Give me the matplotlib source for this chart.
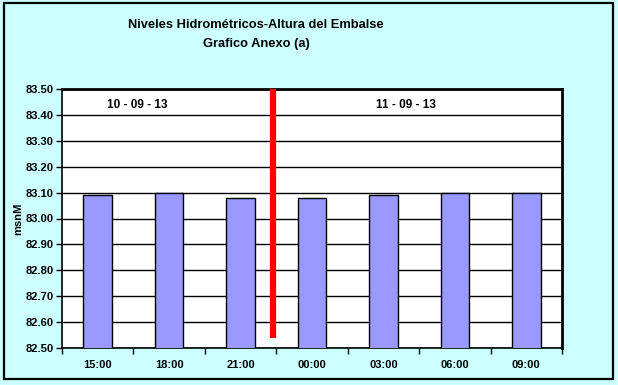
import matplotlib
matplotlib.use("Agg")
import matplotlib.pyplot as plt
from matplotlib.patches import Rectangle
from matplotlib import font_manager
import numpy as np

categories = ["15:00", "18:00", "21:00", "00:00", "03:00", "06:00", "09:00"]
values = [83.09, 83.10, 83.08, 83.08, 83.09, 83.10, 83.10]
yticks = [82.5 + 0.1 * i for i in range(11)]
date_labels = ["10 - 09 - 13", "11 - 09 - 13"]
divider_x = 2.46
divider_bottom = 82.54

plt.rcParams['font.family'] = ['Liberation Sans', 'DejaVu Sans']
names = {f.name for f in font_manager.fontManager.ttflist}
title_family = ['Liberation Sans Narrow', 'Liberation Sans'] if 'Liberation Sans Narrow' in names else ['Liberation Sans']
title_size = 11 if 'Liberation Sans Narrow' in names else 9.3

fig = plt.figure(figsize=(6.18, 3.85), dpi=100)
fig.patch.set_facecolor('#CCFFFF')
fig.patches.append(Rectangle((4/618, 1 - 379/385), 609/618, 376/385, transform=fig.transFigure,
                             fill=False, edgecolor='black', linewidth=1.6))

ax = fig.add_axes([62/618, 1 - 348/385, 500/618, 259/385])
ax.set_facecolor('white')
x = np.arange(len(categories))
ax.bar(x, values, width=0.4, bottom=0, color='#9999FF', edgecolor='black', linewidth=1.0, zorder=3)
ax.set_xlim(-0.5, len(categories) - 0.5)
ax.set_ylim(82.5, 83.5)
ax.set_yticks(yticks)
ax.set_yticklabels([f"{v:.2f}" for v in yticks], fontsize=8, fontweight='bold')
ax.yaxis.grid(True, color='black', linewidth=1.0, zorder=1)
ax.set_axisbelow(True)

ax.set_xticks(x)
ax.set_xticklabels(categories, fontsize=8, fontweight='bold')
ax.tick_params(axis='x', length=0, pad=9)
ax.set_xticks(np.arange(len(categories) + 1) - 0.5, minor=True)
ax.tick_params(axis='x', which='minor', length=4, width=1, direction='out')
ax.tick_params(axis='y', length=4, width=1, direction='out', pad=2)

for s in ['left', 'bottom']:
    ax.spines[s].set_linewidth(1.2)
for s in ['top', 'right']:
    ax.spines[s].set_linewidth(2.0)

ax.plot([divider_x, divider_x], [divider_bottom, 83.5], color='#FF0000', linewidth=4.5,
        solid_capstyle='butt', zorder=4, clip_on=False)

ax.text(0.56, 83.44, date_labels[0], ha='center', va='center', fontsize=8.5, fontweight='heavy', zorder=5)
ax.text(4.32, 83.44, date_labels[1], ha='center', va='center', fontsize=8.5, fontweight='heavy', zorder=5)

ax.set_ylabel("msnM", fontsize=8, fontweight='bold', labelpad=2)

fig.text(256/618, 1 - 25/385, "Niveles Hidrométricos-Altura del Embalse", ha='center', va='center',
         fontsize=title_size, fontweight='bold', family=title_family)
fig.text(256/618, 1 - 44/385, "Grafico Anexo (a)", ha='center', va='center',
         fontsize=title_size, fontweight='bold', family=title_family)

fig.savefig("out.png", dpi=100, facecolor=fig.get_facecolor())
